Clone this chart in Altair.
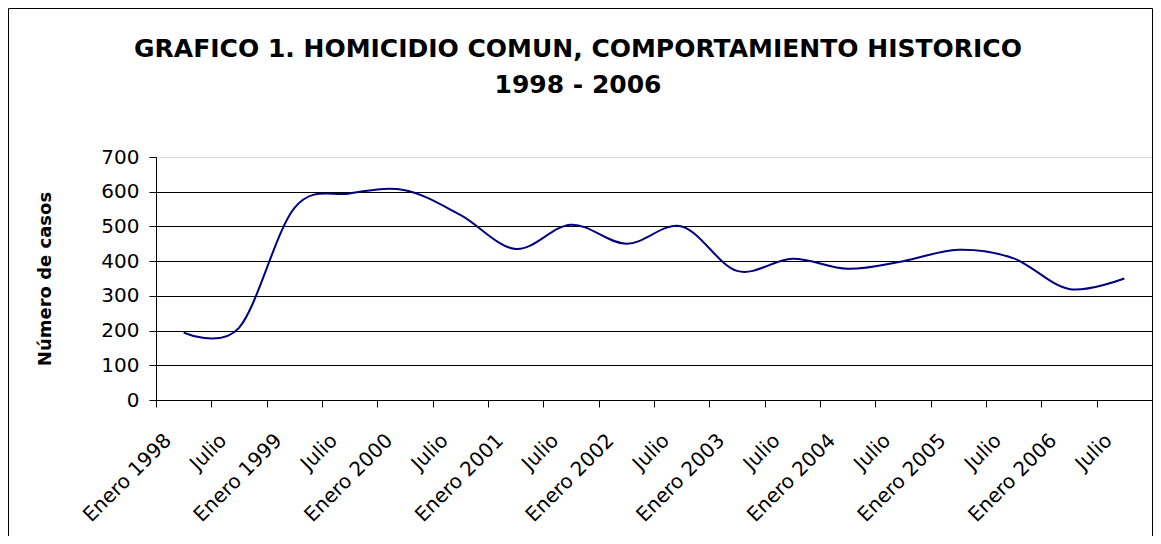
import json
import altair as alt
import pandas as pd

# Semester categories and values (número de casos)
labels = ["Enero 1998", "Julio", "Enero 1999", "Julio", "Enero 2000", "Julio",
          "Enero 2001", "Julio", "Enero 2002", "Julio", "Enero 2003", "Julio",
          "Enero 2004", "Julio", "Enero 2005", "Julio", "Enero 2006", "Julio"]
values = [194, 208, 553, 595, 604, 533, 435, 505, 450, 500,
          372, 407, 378, 400, 433, 408, 320, 350]
y_ticks = [0, 100, 200, 300, 400, 500, 600, 700]

title_lines = ["GRAFICO 1. HOMICIDIO COMUN, COMPORTAMIENTO HISTORICO", "1998 - 2006"]
y_title = "Número de casos"

df = pd.DataFrame({
    "pos": [i + 0.5 for i in range(len(values))],
    "casos": values,
    "periodo": labels,
})

n = len(labels)
x_axis_values = [i * 0.5 for i in range(2 * n + 1)]
label_js = json.dumps(labels, ensure_ascii=False)

FONT = "DejaVu Sans"
W, H = 996, 243

x_axis = alt.Axis(
    values=x_axis_values,
    title=None,
    grid=False,
    labelExpr=f"datum.value % 1 == 0.5 ? {label_js}[floor(datum.value)] : ''",
    labelAngle=-45,
    labelAlign="right",
    labelBaseline="middle",
    labelOffset=-16,
    labelPadding=30,
    labelOverlap=False,
    labelFlush=False,
    labelFont=FONT,
    labelFontSize=20,
    labelColor="black",
    tickSize=7,
    tickColor="black",
    tickOpacity={"condition": {"test": "datum.value % 1 == 0", "value": 1}, "value": 0},
    domainColor="black",
)

y_axis = alt.Axis(
    values=y_ticks,
    title=y_title,
    titleFont=FONT,
    titleFontSize=18,
    titleFontWeight="bold",
    titleColor="black",
    titlePadding=46,
    labelFont=FONT,
    labelFontSize=20,
    labelColor="black",
    labelPadding=10,
    tickSize=7,
    tickColor="black",
    domainColor="black",
    grid=True,
    gridColor="black",
    gridWidth=1,
    gridOpacity={"condition": {"test": "datum.value == 700", "value": 0}, "value": 1},
)

line = alt.Chart(df).mark_line(
    color="#000080", strokeWidth=2, interpolate="cardinal", tension=0
).encode(
    x=alt.X("pos:Q", scale=alt.Scale(domain=[0, n], nice=False, zero=False), axis=x_axis),
    y=alt.Y("casos:Q", scale=alt.Scale(domain=[0, 700], nice=False), axis=y_axis),
)

# decorative outer frame of the chart area
frame = alt.Chart(pd.DataFrame({"f": [0]})).mark_rect(
    fill=None, stroke="black", strokeWidth=1
).encode(
    x=alt.value(-147.5), x2=alt.value(W + 0.5),
    y=alt.value(-148.5), y2=alt.value(H + 150),
)

chart = alt.layer(frame, line).properties(
    width=W,
    height=H,
    padding={"left": 148, "top": 149, "right": 1, "bottom": 136},
    autosize=alt.AutoSizeParams(type="none"),
    title=alt.TitleParams(
        text=title_lines,
        font=FONT,
        fontSize=25,
        fontWeight="bold",
        color="black",
        anchor="middle",
        dx=-76,
        baseline="bottom",
        offset=0,
        dy=115,
        lineHeight=36,
    ),
).configure_view(
    stroke="#808080", strokeWidth=1
).configure(background="white")

chart.save("out.html", embed_options={"renderer": "svg", "actions": False})
